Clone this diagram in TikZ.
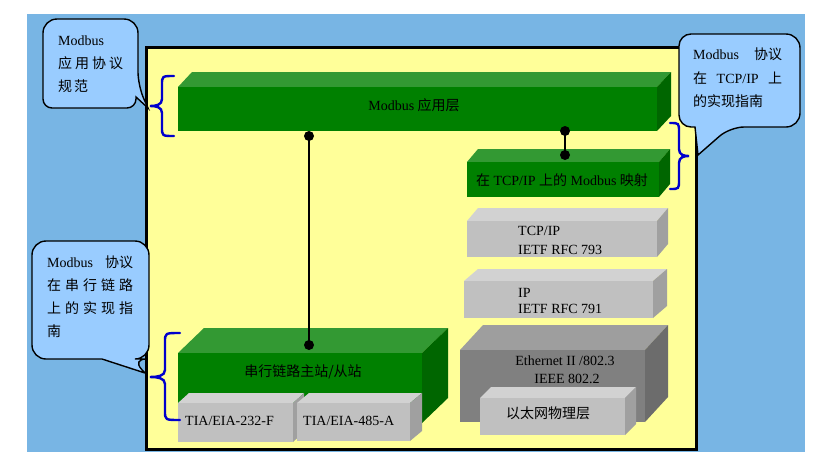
\documentclass[tikz,border=0pt]{standalone}
\usepackage{fontspec}
\setmainfont{Liberation Serif}
\newfontfamily\cjk{Noto Sans CJK SC}
\newcommand\zh[1]{{\cjk #1}}
\newcommand\spreadzh[2]{\makebox[#1][l]{\cjk #2}}
\definecolor{bgblue}{RGB}{120,181,228}
\definecolor{pale}{RGB}{255,255,153}
\definecolor{callblue}{RGB}{153,204,255}
\definecolor{gfront}{RGB}{0,128,0}
\definecolor{gtop}{RGB}{51,153,51}
\definecolor{gside}{RGB}{0,102,0}
\definecolor{lfront}{RGB}{192,192,192}
\definecolor{ltop}{RGB}{210,210,210}
\definecolor{lside}{RGB}{160,160,160}
\definecolor{dfront}{RGB}{128,128,128}
\definecolor{dtop}{RGB}{158,158,158}
\definecolor{dside}{RGB}{108,108,108}
\definecolor{bracec}{RGB}{0,0,204}
% #1 name, #2 x1, #3 y1, #4 x2, #5 y2 (front face), #6 depth dx, #7 depth dy, #8 colour prefix
\newcommand\slab[8]{%
  \fill[#8top] (#2,#3) -- ({#2+#6},{#3-#7}) -- ({#4+#6},{#3-#7}) -- (#4,#3) -- cycle;
  \fill[#8side] (#4,#3) -- ({#4+#6},{#3-#7}) -- ({#4+#6},{#5-#7}) -- (#4,#5) -- cycle;
  \fill[#8front] (#2,#3) rectangle (#4,#5);
  \coordinate (#1) at ({(#2+#4)/2},{(#3+#5)/2});
}
% #1 xend, #2 xspine, #3 xtip, #4 ytop, #5 ymid, #6 ybot
\newcommand\brc[6]{%
  \draw[bracestyle] (#1,#4) .. controls (#2,#4) .. (#2,{#4+9}) -- (#2,{#5-7})
    .. controls (#2,{#5-1}) and ({(#2+#3)/2},#5) .. (#3,#5)
    .. controls ({(#2+#3)/2},#5) and (#2,{#5+1}) .. (#2,{#5+7})
    -- (#2,{#6-9}) .. controls (#2,#6) .. (#1,#6);
}
\begin{document}
\begin{tikzpicture}[x=1pt,y=-1pt,
  txt/.style={inner sep=0pt,font=\fontsize{14}{16}\selectfont},
  callout/.style={draw=black,line width=1.4pt,fill=callblue},
  bracestyle/.style={draw=bracec,line width=2.4pt,line cap=round},
  link/.style={draw=black,line width=2.2pt}]
\useasboundingbox (0,0) rectangle (833,464);
\fill[white] (0,0) rectangle (833,464);
\fill[bgblue] (27,14) rectangle (805,452);
\draw[line width=3pt,fill=pale] (146,47) rectangle (696,449);

\slab{appl}{178}{87}{657}{131}{14}{15}{g}
\slab{map}{467}{162}{659}{197}{11}{13}{g}
\slab{tcp}{467}{221}{657}{257}{11}{13}{l}
\slab{ip}{464}{281}{653}{318}{14}{12}{l}
\slab{eth}{460}{350}{645}{422}{23}{25}{d}
\slab{ethphy}{480}{398}{625}{435}{11}{11}{l}
\slab{serial}{178}{353}{422}{423}{26}{25}{g}
\slab{rs232}{178}{403}{293}{442}{11}{10}{l}
\slab{rs485}{297}{403}{410}{441}{12}{10}{l}

\node[txt,anchor=base] (applT) at (414,110) {Modbus \zh{应用层}};
\node[txt,anchor=base] (mapT) at (562,185) {\zh{在} TCP/IP \zh{上的} Modbus \zh{映射}};
\node[txt,anchor=base west] (tcpA) at (518,235) {TCP/IP};
\node[txt,anchor=base west] (tcpB) at (518,254) {IETF RFC 793};
\node[txt,anchor=base west] (ipA) at (518,297) {IP};
\node[txt,anchor=base west] (ipB) at (518,313) {IETF RFC 791};
\node[txt,anchor=base] (ethA) at (565,365) {Ethernet II /802.3};
\node[txt,anchor=base] (ethB) at (567,383) {IEEE 802.2};
\node[txt,anchor=base] (phyT) at (548,418) {\zh{以太网物理层}};
\node[txt,anchor=base] (serT) at (303,376) {\zh{串行链路主站/从站}};
\node[txt,anchor=base west] (r232T) at (185,425) {TIA/EIA-232-F};
\node[txt,anchor=base west] (r485T) at (303,425) {TIA/EIA-485-A};

\coordinate (p1) at (309,136);
\coordinate (p2) at (309,345);
\draw[link] (p1) -- (p2);
\fill (p1) circle[radius=5];
\fill (p2) circle[radius=5];
\coordinate (q1) at (565,131);
\coordinate (q2) at (565,155);
\draw[link] (q1) -- (q2);
\fill (q1) circle[radius=5];
\fill (q2) circle[radius=5];

\brc{174}{162}{150}{76}{106}{136}
\brc{670}{679}{689}{123}{156}{189}
\brc{180}{165}{150}{333}{377}{420}

\draw[callout] (90,19) [rounded corners=14pt] -- (138,19) -- (138,86) [sharp corners] -- (148,108) -- (136,97) [rounded corners=9pt] -- (136,108) -- (43,108) [rounded corners=14pt] -- (43,19) -- cycle;
\draw[callout] (740,34) [rounded corners=14pt] -- (800,34) -- (800,127) -- (730,127) [sharp corners] -- (698,155) -- (695,127) [rounded corners=12pt] -- (679,127) -- (679,34) -- cycle;
\draw[callout] (90,241) [rounded corners=14pt] -- (149,241) -- (149,359) -- (132,359) [sharp corners] -- (145,373) -- (102,359) [rounded corners=14pt] -- (32,359) -- (32,241) -- cycle;

\node[txt,anchor=base west] (c1a) at (58,45) {Modbus};
\node[txt,anchor=base west] (c1b) at (58,68) {\spreadzh{65pt}{应\hfill 用\hfill 协\hfill 议}};
\node[txt,anchor=base west] (c1c) at (58,91) {\spreadzh{30pt}{规\hfill 范}};
\node[txt,anchor=base west] (c2a) at (693,59) {\makebox[89pt][l]{Modbus\hfill\zh{协议}}};
\node[txt,anchor=base west] (c2b) at (693,83) {\makebox[89pt][l]{\zh{在}\hfill TCP/IP\hfill\zh{上}}};
\node[txt,anchor=base west] (c2c) at (693,106) {\zh{的实现指南}};
\node[txt,anchor=base west] (c3a) at (47,267) {\makebox[86pt][l]{Modbus\hfill\zh{协议}}};
\node[txt,anchor=base west] (c3b) at (47,290) {\spreadzh{86pt}{在\hfill 串\hfill 行\hfill 链\hfill 路}};
\node[txt,anchor=base west] (c3c) at (47,313) {\spreadzh{86pt}{上\hfill 的\hfill 实\hfill 现\hfill 指}};
\node[txt,anchor=base west] (c3d) at (47,336) {\zh{南}};
\end{tikzpicture}
\end{document}
